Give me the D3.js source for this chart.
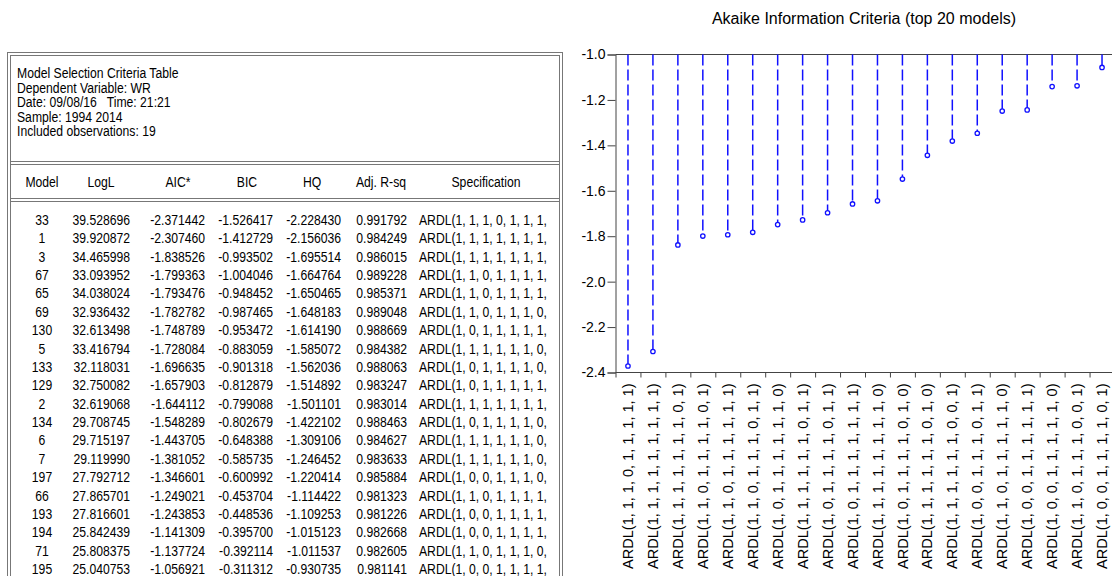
<!DOCTYPE html>
<html>
<head>
<meta charset="utf-8">
<script src="https://cdn.jsdelivr.net/npm/d3@7"></script>
<style>
  html, body { margin: 0; padding: 0; background: #fff; }
  svg { display: block; }
  text { font-family: "Liberation Sans", Arial, sans-serif; fill: #000; white-space: pre; }
</style>
</head>
<body>
<svg id="chart" width="1112" height="576"></svg>
<script>
// ---------- data ----------
const headerLines = [
  "Model Selection Criteria Table",
  "Dependent Variable: WR",
  "Date: 09/08/16   Time: 21:21",
  "Sample: 1994 2014",
  "Included observations: 19"
];
const columns = ["Model", "LogL", "AIC*", "BIC", "HQ", "Adj. R-sq", "Specification"];
const models = [33, 1, 3, 67, 65, 69, 130, 5, 133, 129, 2, 134, 6, 7, 197, 66, 193, 194, 71, 195];
const logL = ["39.528696","39.920872","34.465998","33.093952","34.038024","32.936432","32.613498","33.416794","32.118031","32.750082",
              "32.619068","29.708745","29.715197","29.119990","27.792712","27.865701","27.816601","25.842439","25.808375","25.040753"];
const aic = [-2.371442,-2.307460,-1.838526,-1.799363,-1.793476,-1.782782,-1.748789,-1.728084,-1.696635,-1.657903,
             -1.644112,-1.548289,-1.443705,-1.381052,-1.346601,-1.249021,-1.243853,-1.141309,-1.137724,-1.056921];
const bic = ["-1.526417","-1.412729","-0.993502","-1.004046","-0.948452","-0.987465","-0.953472","-0.883059","-0.901318","-0.812879",
             "-0.799088","-0.802679","-0.648388","-0.585735","-0.600992","-0.453704","-0.448536","-0.395700","-0.392114","-0.311312"];
const hq = ["-2.228430","-2.156036","-1.695514","-1.664764","-1.650465","-1.648183","-1.614190","-1.585072","-1.562036","-1.514892",
            "-1.501101","-1.422102","-1.309106","-1.246452","-1.220414","-1.114422","-1.109253","-1.015123","-1.011537","-0.930735"];
const adjR2 = ["0.991792","0.984249","0.986015","0.989228","0.985371","0.989048","0.988669","0.984382","0.988063","0.983247",
               "0.983014","0.988463","0.984627","0.983633","0.985884","0.981323","0.981226","0.982668","0.982605","0.981141"];
const specs = [
  "ARDL(1, 1, 1, 0, 1, 1, 1, 1, 1)",
  "ARDL(1, 1, 1, 1, 1, 1, 1, 1, 1)",
  "ARDL(1, 1, 1, 1, 1, 1, 1, 0, 1)",
  "ARDL(1, 1, 0, 1, 1, 1, 1, 0, 1)",
  "ARDL(1, 1, 0, 1, 1, 1, 1, 1, 1)",
  "ARDL(1, 1, 0, 1, 1, 1, 0, 1, 1)",
  "ARDL(1, 0, 1, 1, 1, 1, 1, 1, 0)",
  "ARDL(1, 1, 1, 1, 1, 1, 0, 1, 1)",
  "ARDL(1, 0, 1, 1, 1, 1, 0, 1, 1)",
  "ARDL(1, 0, 1, 1, 1, 1, 1, 1, 1)",
  "ARDL(1, 1, 1, 1, 1, 1, 1, 1, 0)",
  "ARDL(1, 0, 1, 1, 1, 1, 0, 1, 0)",
  "ARDL(1, 1, 1, 1, 1, 1, 0, 1, 0)",
  "ARDL(1, 1, 1, 1, 1, 1, 0, 0, 1)",
  "ARDL(1, 0, 0, 1, 1, 1, 0, 1, 1)",
  "ARDL(1, 1, 0, 1, 1, 1, 1, 1, 0)",
  "ARDL(1, 0, 0, 1, 1, 1, 1, 1, 1)",
  "ARDL(1, 0, 0, 1, 1, 1, 1, 1, 0)",
  "ARDL(1, 1, 0, 1, 1, 1, 0, 0, 1)",
  "ARDL(1, 0, 0, 1, 1, 1, 1, 0, 1)"
];
const yTicks = [-1.0, -1.2, -1.4, -1.6, -1.8, -2.0, -2.2, -2.4];
const chartTitle = "Akaike Information Criteria (top 20 models)";

// ---------- table ----------
const svg = d3.select("#chart");
const tbl = svg.append("g");
const borderCol = "#777";
const SX = 0.87;   // narrow table font
function tText(g, str, x, y, anchor) {
  return g.append("text")
    .attr("transform", `translate(${x},${y}) scale(${SX},1)`)
    .attr("text-anchor", anchor || "start")
    .attr("xml:space", "preserve")
    .style("font-size", "14px")
    .text(str);
}
// outer double border
tbl.append("rect").attr("x", 7.5).attr("y", 52.5).attr("width", 555).attr("height", 600)
  .attr("fill", "none").attr("stroke", borderCol).attr("stroke-width", 1);
tbl.append("rect").attr("x", 10.5).attr("y", 55.5).attr("width", 549).attr("height", 600)
  .attr("fill", "none").attr("stroke", borderCol).attr("stroke-width", 1);
// separators (double lines)
[161.5, 198.5].forEach(y => {
  [y, y + 3].forEach(yy => tbl.append("line").attr("x1", 10.5).attr("x2", 559.5)
    .attr("y1", yy).attr("y2", yy).attr("stroke", borderCol));
});
headerLines.forEach((s, i) => tText(tbl, s, 17, 78 + i * 14.5, "start"));

const colHeaderX = [42, 101, 178, 247, 312, 381, 486];
columns.forEach((c, i) => tText(tbl, c, colHeaderX[i], 187, "middle"));

const rowY = d3.scaleLinear().domain([0, 19]).range([225, 225 + 19 * 18.37]);
const clip = svg.append("defs").append("clipPath").attr("id", "specclip");
clip.append("rect").attr("x", 400).attr("y", 200).attr("width", 148).attr("height", 400);
const specG = tbl.append("g").attr("clip-path", "url(#specclip)");
models.forEach((m, i) => {
  const y = rowY(i);
  tText(tbl, String(m), 42, y, "middle");
  tText(tbl, logL[i], 130, y, "end");
  tText(tbl, aic[i].toFixed(6), 205, y, "end");
  tText(tbl, bic[i], 273, y, "end");
  tText(tbl, hq[i], 341, y, "end");
  tText(tbl, adjR2[i], 407, y, "end");
  tText(specG, specs[i], 419, y, "start");
});

// ---------- chart ----------
const x = d3.scaleBand().domain(specs).range([615.5, 1114.5]).padding(0);
const y = d3.scaleLinear().domain([-2.4, -1.0]).range([372.5, 54.5]);
const axisCol = "#444";
const ch = svg.append("g");

ch.append("text").attr("x", 864).attr("y", 24).attr("text-anchor", "middle")
  .style("font-size", "16px").text(chartTitle);

// y axis
const yAxis = ch.append("g").attr("transform", "translate(615.5,0)")
  .call(d3.axisLeft(y).tickValues(yTicks).tickFormat(d3.format(".1f")).tickSize(8).tickPadding(2));
yAxis.select(".domain").attr("stroke", axisCol);
yAxis.selectAll(".tick line").attr("stroke", axisCol);
yAxis.selectAll(".tick text").style("font-size", "14px")
  .style("font-family", '"Liberation Sans", Arial, sans-serif').attr("fill", "#000")
  .text(d => d3.format(".1f")(d).replace("−", "-"));

// top frame line
ch.append("line").attr("x1", 615.5).attr("x2", 1112).attr("y1", y(-1.0)).attr("y2", y(-1.0))
  .attr("stroke", axisCol);

// x axis
const xAxisG = ch.append("g").attr("transform", `translate(0,${y(-2.4)})`);
xAxisG.append("line").attr("x1", 615.5).attr("x2", 1112).attr("y1", 0).attr("y2", 0).attr("stroke", axisCol);
xAxisG.selectAll("line.tk").data(specs).join("line").attr("class", "tk")
  .attr("x1", d => x(d) + 0.5).attr("x2", d => x(d) + 0.5)
  .attr("y1", 0).attr("y2", 5).attr("stroke", axisCol);
xAxisG.selectAll("text.lbl").data(specs).join("text").attr("class", "lbl")
  .attr("transform", d => `translate(${x(d) + x.bandwidth() / 2},11) rotate(-90)`)
  .attr("text-anchor", "end").attr("dy", "0.35em")
  .style("font-size", "14.5px").text(d => d);

// stems
const stems = ch.append("g");
stems.selectAll("line").data(specs).join("line")
  .attr("x1", d => x(d) + x.bandwidth() / 2).attr("x2", d => x(d) + x.bandwidth() / 2)
  .attr("y1", y(-1.0)).attr("y2", (d, i) => y(aic[i]))
  .attr("stroke", "#1010ff").attr("stroke-width", 1.5).attr("stroke-dasharray", "11,4");
stems.selectAll("circle").data(specs).join("circle")
  .attr("cx", d => x(d) + x.bandwidth() / 2).attr("cy", (d, i) => y(aic[i]))
  .attr("r", 2.2).attr("fill", "#fff").attr("stroke", "#1010ff").attr("stroke-width", 1.3);
</script>
</body>
</html>
